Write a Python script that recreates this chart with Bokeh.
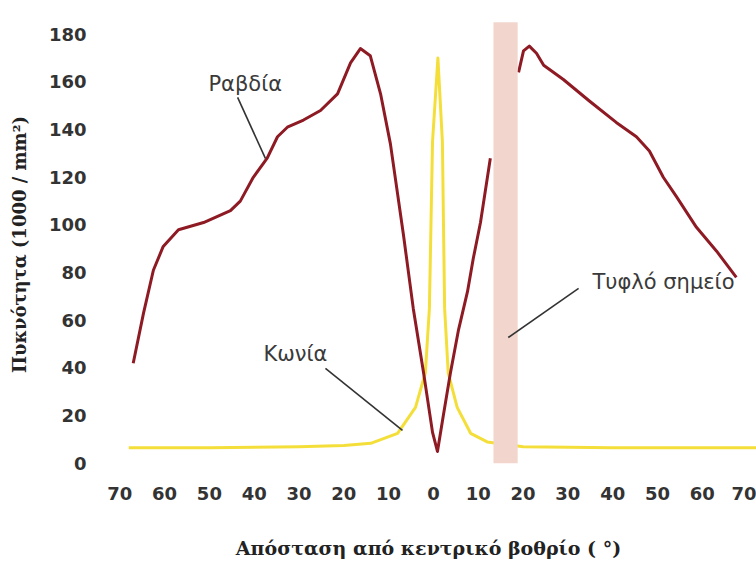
import math
from bokeh.plotting import figure
from bokeh.models import Label, FixedTicker
from bokeh.embed import file_html
from bokeh.resources import INLINE

# ---- data (degrees from fovea; left side negative) ----
rods_left_x = [-67, -64.7, -62.5, -60.3, -56.9, -51.3, -45.3, -43.1, -40.2, -37.1, -34.8,
               -32.6, -29, -25.2, -21.4, -18.5, -16.3, -14.1, -11.8, -9.6, -6.7, -4.5,
               -2.2, -0.2, 0.9, 2.2, 3.8, 5.6, 7.6, 8.9, 10.5, 12.7]
rods_left_y = [42, 63, 81, 91, 98, 101, 106, 110, 120, 128, 137,
               141, 144, 148, 155, 168, 174, 171, 155, 134, 96, 65,
               38, 13, 5, 20, 38, 56, 72, 86, 101, 128]
rods_right_x = [19, 20.1, 21.4, 23, 24.6, 29, 34.8, 40.8, 45.3, 48.2, 51.3, 54.2, 58.7, 63.2, 67.6]
rods_right_y = [164, 173, 175, 172, 167, 161, 152, 143, 137, 131, 120, 112, 99, 89, 78]

cones_x = [-68, -50, -30, -20, -14, -8, -4, -1.8, -0.9, -0.2, 1, 2.0, 2.5, 3.3, 5.3, 8.3, 12, 20, 40, 60, 72]
cones_y = [6.5, 6.5, 7, 7.5, 8.4, 12.6, 23.5, 38, 65, 135, 170, 135, 65, 38, 23.5, 12.6, 9, 7, 6.5, 6.5, 6.5]

blind_spot = (13.4, 18.8)
blind_spot_top = 185

x_ticks = [-70, -60, -50, -40, -30, -20, -10, 0, 10, 20, 30, 40, 50, 60, 70]
x_tick_labels = ["70", "60", "50", "40", "30", "20", "10", "0", "10", "20", "30", "40", "50", "60", "70"]
y_ticks = [0, 20, 40, 60, 80, 100, 120, 140, 160, 180]

# annotations: text, anchor, alignment, leader line from (x0,y0) to (x1,y1)
ann_texts = ["Ραβδία", "Κωνία", "Τυφλό σημείο"]
ann_text_x = [-42, -30.8, 35.5]
ann_text_y = [159.3, 46, 76]
ann_align = ["center", "center", "left"]
ann_x0 = [-43.7, -24.1, 32.4]
ann_y0 = [153.5, 39.8, 73.4]
ann_x1 = [-37.5, -6.9, 16.7]
ann_y1 = [127.9, 13.8, 52.8]

x_title = "Απόσταση από κεντρικό βοθρίο ( °)"
y_title = "Πυκνότητα (1000 / mm²)"

ROD = "#8E1B24"
CONE = "#F4DF3A"
BAND = "#F2D6CE"
TXT = "#3a3a3a"

p = figure(width=756, height=562, x_range=(-74.3, 72.1), y_range=(-3, 186.6),
           output_backend="svg", toolbar_location=None,
           min_border_left=100, min_border_right=0, min_border_top=18, min_border_bottom=92)
p.outline_line_color = None
p.grid.grid_line_color = None
p.background_fill_color = "white"
p.border_fill_color = "white"

for ax in (p.xaxis[0], p.yaxis[0]):
    ax.axis_line_color = None
    ax.major_tick_line_color = None
    ax.minor_tick_line_color = None
    ax.major_label_text_font = "DejaVu Sans"
    ax.major_label_text_font_style = "bold"
    ax.major_label_text_font_size = "18px"
    ax.major_label_text_color = "#333333"
    ax.axis_label_text_font = "DejaVu Serif"
    ax.axis_label_text_font_style = "bold"
    ax.axis_label_text_color = "#222222"

p.xaxis.ticker = FixedTicker(ticks=x_ticks)
p.xaxis.major_label_overrides = {t: l for t, l in zip(x_ticks, x_tick_labels)}
p.xaxis.major_label_standoff = 10
p.xaxis.axis_label = x_title
p.xaxis.axis_label_text_font_size = "19px"
p.xaxis.axis_label_standoff = 34
p.yaxis.ticker = FixedTicker(ticks=y_ticks)
p.yaxis.major_label_standoff = 8
p.yaxis.axis_label = y_title
p.yaxis.axis_label_text_font_size = "18px"
p.yaxis.axis_label_standoff = 16

p.line(cones_x, cones_y, line_color=CONE, line_width=3, line_join="round")
p.line(rods_left_x, rods_left_y, line_color=ROD, line_width=3, line_join="round")
p.line(rods_right_x, rods_right_y, line_color=ROD, line_width=3, line_join="round")

p.quad(left=[blind_spot[0]], right=[blind_spot[1]], bottom=[0], top=[blind_spot_top],
       fill_color=BAND, line_color=None)

p.segment(ann_x0, ann_y0, ann_x1, ann_y1, line_color="#333333", line_width=1.6)
for t, tx, ty, al in zip(ann_texts, ann_text_x, ann_text_y, ann_align):
    p.add_layout(Label(x=tx, y=ty, text=t, text_align=al, text_baseline="middle",
                       text_font="DejaVu Sans", text_font_size="21px", text_color=TXT))

open("out.html", "w").write(file_html(p, INLINE))
